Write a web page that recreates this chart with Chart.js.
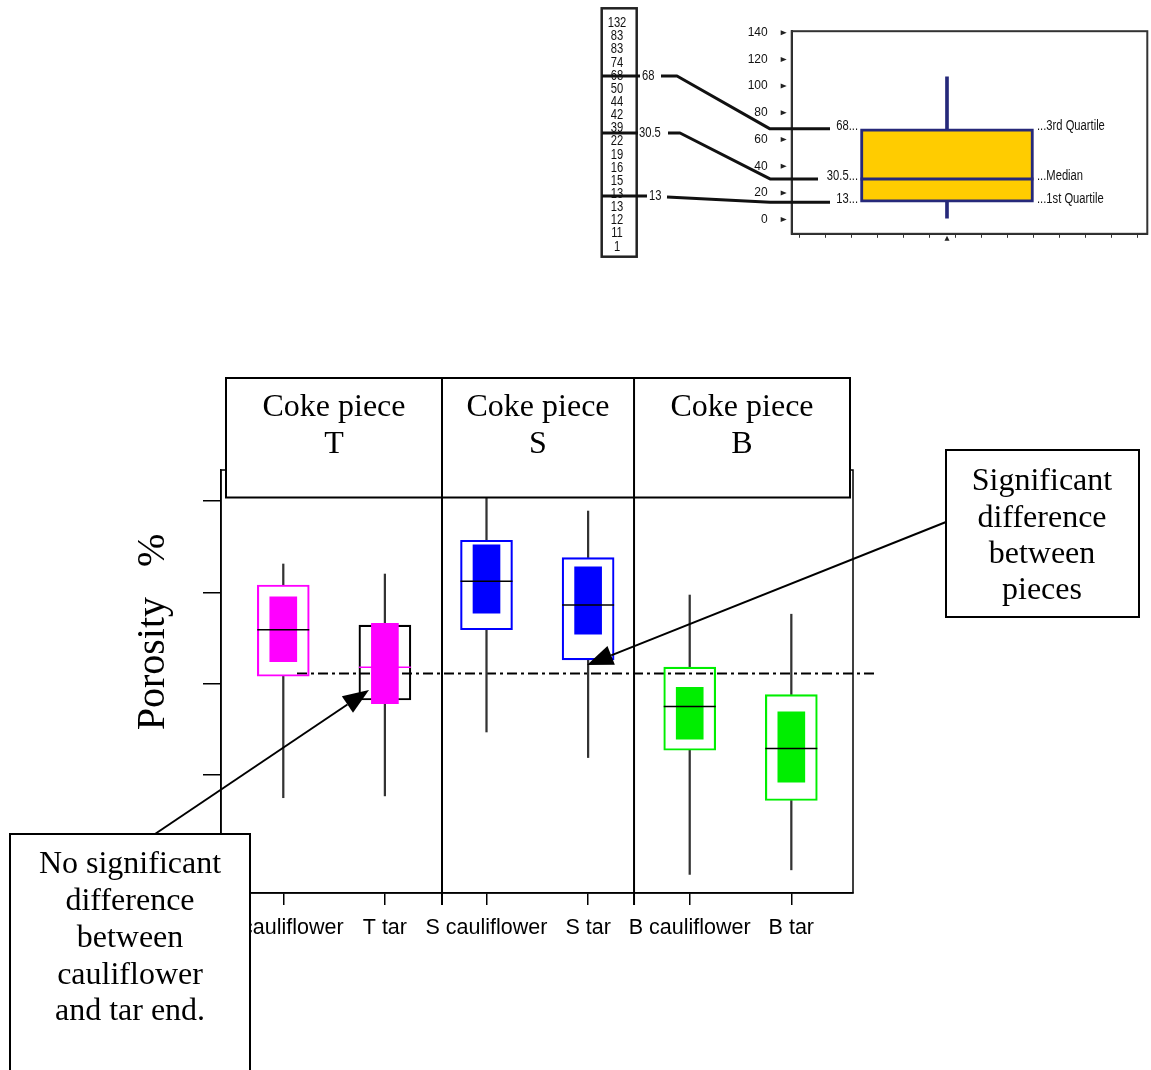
<!DOCTYPE html>
<html><head><meta charset="utf-8">
<script src="https://cdn.jsdelivr.net/npm/chart.js@4.4.1/dist/chart.umd.min.js"></script>
<style>
html,body{margin:0;padding:0;background:#fff;}
body{width:1151px;height:1070px;position:relative;overflow:hidden;}
#main{position:absolute;left:0;top:0;}
#top{position:absolute;left:590px;top:0;}
</style></head><body>
<canvas id="main" width="1151" height="1070"></canvas>
<canvas id="top" width="561" height="265"></canvas>
<script>
// ---------- main chart data ----------
const categories = ['T cauliflower', 'T tar', 'S cauliflower', 'S tar', 'B cauliflower', 'B tar'];
const whiskerMin = [17.5, 17.7, 24.7, 21.9, 9.1, 9.6];
const q1 = [30.8, 28.2, 35.9, 32.6, 22.7, 17.2];
const median = [35.9, 31.8, 41.2, 38.6, 27.5, 22.9];
const q3 = [40.8, 36.4, 45.7, 43.8, 31.8, 28.8];
const whiskerMax = [43.1, 42.0, 51.0, 48.9, 39.7, 37.6];
const innerLow = [32.4, 27.8, 37.7, 35.4, 23.9, 19.2];
const innerHigh = [39.5, 36.6, 45.2, 42.8, 29.6, 26.9];
const referenceLevel = 31.1;
const yTicks = [50, 40, 30, 20, 10];
const pieces = ['T', 'S', 'B'];
const yTitle = 'Porosity   %';
const noteRight = ['Significant', 'difference', 'between', 'pieces'];
const noteLeft = ['No significant', 'difference', 'between', 'cauliflower', 'and tar end.'];

// ---------- explanatory box plot data ----------
const sortedSample = [132, 83, 83, 74, 68, 50, 44, 42, 39, 22, 19, 16, 15, 13, 13, 12, 11, 1];
const quartileValues = [68, 30.5, 13];
const quartileLabels = ['68', '30.5', '13'];
const quartileNames = ['3rd Quartile', 'Median', '1st Quartile'];
const whiskerRange = [1, 107];
const axisTicks = [0, 20, 40, 60, 80, 100, 120, 140];

// ---------- styles ----------
const fillColors = ['#ff00ff', '#ff00ff', '#0000ff', '#0000ff', '#00ee00', '#00ee00'];
const boxColors = ['#ff00ff', '#000000', '#0000ff', '#0000ff', '#00ee00', '#00ee00'];
const medianColors = ['#000', '#ff00ff', '#000', '#000', '#000', '#000'];
const SERIF = '"Liberation Serif", "Times New Roman", serif';
const SANS = '"Liberation Sans", Arial, sans-serif';

function arrow(ctx, x1, y1, x2, y2) {
  const ang = Math.atan2(y2 - y1, x2 - x1);
  const L = 26, W = 10;
  const bx = x2 - Math.cos(ang) * L, by = y2 - Math.sin(ang) * L;
  ctx.beginPath(); ctx.moveTo(x1, y1); ctx.lineTo(bx, by); ctx.stroke();
  ctx.beginPath();
  ctx.moveTo(x2, y2);
  ctx.lineTo(bx + Math.sin(ang) * W, by - Math.cos(ang) * W);
  ctx.lineTo(bx - Math.sin(ang) * W, by + Math.cos(ang) * W);
  ctx.closePath(); ctx.fill();
}

const mainDecor = {
  id: 'mainDecor',
  beforeDatasetsDraw(chart) {
    const { ctx, chartArea: a, scales: { x, y } } = chart;
    ctx.save();
    ctx.strokeStyle = '#000'; ctx.lineWidth = 1.5;
    ctx.strokeRect(a.left, a.top, a.width, a.height);
    const yy = y.getPixelForValue(referenceLevel);
    ctx.setLineDash([10, 4, 3, 4]); ctx.lineWidth = 2;
    ctx.beginPath(); ctx.moveTo(x.getPixelForValue(1.135), yy); ctx.lineTo(x.getPixelForValue(6.824), yy); ctx.stroke();
    ctx.restore();
  },
  afterDraw(chart) {
    const { ctx, scales: { x } } = chart;
    ctx.save();
    // header
    const hl = 226, hr = 850, ht = 378, hb = 497.5;
    const s1 = x.getPixelForValue(2.562), s2 = x.getPixelForValue(4.452);
    ctx.fillStyle = '#fff'; ctx.fillRect(hl, ht, hr - hl, hb - ht);
    ctx.strokeStyle = '#000'; ctx.lineWidth = 2; ctx.strokeRect(hl, ht, hr - hl, hb - ht);
    [s1, s2].forEach(sx => { ctx.beginPath(); ctx.moveTo(sx, ht); ctx.lineTo(sx, 905); ctx.stroke(); });
    ctx.fillStyle = '#000'; ctx.font = '32px ' + SERIF; ctx.textAlign = 'center'; ctx.textBaseline = 'middle';
    const centers = [(hl + s1) / 2, (s1 + s2) / 2, (s2 + hr) / 2];
    pieces.forEach((p, i) => { ctx.fillText('Coke piece', centers[i], 408); ctx.fillText(p, centers[i], 445); });
    // y title
    ctx.save(); ctx.translate(153, 632); ctx.rotate(-Math.PI / 2);
    ctx.font = '40px ' + SERIF; ctx.fillText(yTitle, 0, 0); ctx.restore();
    // arrows
    ctx.lineWidth = 2; ctx.strokeStyle = '#000'; ctx.fillStyle = '#000';
    arrow(ctx, 155, 834, 369, 690);
    arrow(ctx, 946, 522, 587, 665);
    // notes
    ctx.fillStyle = '#fff'; ctx.fillRect(946, 450, 193, 167); ctx.strokeRect(946, 450, 193, 167);
    ctx.fillRect(10, 834, 240, 250); ctx.strokeRect(10, 834, 240, 250);
    ctx.fillStyle = '#000'; ctx.font = '32px ' + SERIF;
    noteRight.forEach((t, i) => ctx.fillText(t, 1042, 482 + i * 36.3));
    noteLeft.forEach((t, i) => ctx.fillText(t, 130, 865 + i * 36.7));
    ctx.restore();
  }
};

const bar = (lo, hi, extra) => Object.assign({
  data: categories.map((c, i) => ({ x: i + 1, y: [lo[i], hi[i]] })),
  grouped: false, borderSkipped: false
}, extra);

new Chart(document.getElementById('main'), {
  type: 'bar',
  data: {
    datasets: [
      { type: 'line', data: categories.map((c, i) => ({ x: i + 1, y: median[i] })), showLine: false,
        pointStyle: 'line', pointRadius: 26, pointHoverRadius: 26, pointBorderWidth: 1.5,
        pointBorderColor: medianColors, pointBackgroundColor: medianColors, order: 0 },
      bar(innerLow, innerHigh, { backgroundColor: fillColors, borderWidth: 0, barThickness: 27, order: 1 }),
      bar(q1, q3, { backgroundColor: 'rgba(0,0,0,0)', borderColor: boxColors, borderWidth: 1.5, barThickness: 52, order: 2 }),
      bar(q3, whiskerMax, { backgroundColor: '#333', borderWidth: 0, barThickness: 1.6, order: 3 }),
      bar(whiskerMin, q1, { backgroundColor: '#333', borderWidth: 0, barThickness: 1.6, order: 4 })
    ]
  },
  options: {
    responsive: false, animation: false, events: [],
    plugins: { legend: { display: false }, tooltip: { enabled: false } },
    layout: { autoPadding: false, padding: { left: 203, right: 298, top: 470, bottom: 117 } },
    scales: {
      x: {
        type: 'linear', min: 0.387, max: 6.607, offset: false,
        afterBuildTicks: s => { s.ticks = categories.map((c, i) => ({ value: i + 1 })); },
        ticks: { callback: (v, i) => categories[i], font: { family: SANS, size: 21.5 }, color: '#000',
                 padding: 10, maxRotation: 0, minRotation: 0, autoSkip: false },
        grid: { offset: false, drawOnChartArea: false, drawTicks: true, tickLength: 12, color: '#000', lineWidth: 1.5 },
        border: { display: true, color: '#000', width: 1.5 },
        afterFit: s => { s.height = 60; }
      },
      y: {
        min: 7.064, max: 53.395,
        afterBuildTicks: s => { s.ticks = yTicks.map(v => ({ value: v })); },
        ticks: { display: false },
        grid: { drawOnChartArea: false, drawTicks: true, tickLength: 18, color: '#000', lineWidth: 1.5 },
        border: { display: true, color: '#000', width: 1.5 },
        afterFit: s => { s.width = 18; }
      }
    }
  },
  plugins: [mainDecor]
});

// ---------- explanatory chart ----------
const OX = 590;
const NAVY = '#26297a';
const BOX_X = 0.4367;

function narrowText(ctx, text, x, y, align) {
  ctx.save(); ctx.translate(x, y); ctx.scale(0.8, 1);
  ctx.textAlign = align; ctx.fillText(text, 0, 0); ctx.restore();
}

const topDecor = {
  id: 'topDecor',
  afterDraw(chart) {
    const { ctx, chartArea: a, scales: { x, y } } = chart;
    ctx.save();
    ctx.strokeStyle = '#333'; ctx.lineWidth = 2;
    ctx.strokeRect(a.left, a.top, a.width, a.height);
    // tick triangles
    ctx.fillStyle = '#222';
    axisTicks.forEach(v => {
      const py = y.getPixelForValue(v);
      ctx.beginPath(); ctx.moveTo(a.left - 11, py - 2.5); ctx.lineTo(a.left - 5, py); ctx.lineTo(a.left - 11, py + 2.5); ctx.closePath(); ctx.fill();
    });
    const bx = x.getPixelForValue(BOX_X);
    ctx.beginPath(); ctx.moveTo(bx, a.bottom + 2); ctx.lineTo(bx + 2.5, a.bottom + 7); ctx.lineTo(bx - 2.5, a.bottom + 7); ctx.closePath(); ctx.fill();
    // sample column
    ctx.strokeStyle = '#222'; ctx.lineWidth = 2.5;
    ctx.strokeRect(601.7 - OX, 8.3, 35, 248.4);
    ctx.fillStyle = '#111'; ctx.font = '14px ' + SANS; ctx.textBaseline = 'middle';
    sortedSample.forEach((v, i) => narrowText(ctx, String(v), 617 - OX, 23.3 + i * 13.14, 'center'));
    // connectors
    const colY = [76, 133, 196];
    const colEnd = [640, 638, 647];
    const lblX = [642, 639, 649];
    const pathStart = [[661, 677], [668, 680], [667, 667]];
    const lineEnd = [830, 818, 830];
    ctx.strokeStyle = '#111'; ctx.lineWidth = 3; ctx.lineJoin = 'round';
    quartileValues.forEach((v, i) => {
      const py = y.getPixelForValue(v);
      ctx.beginPath(); ctx.moveTo(602 - OX, colY[i]); ctx.lineTo(colEnd[i] - OX, colY[i]); ctx.stroke();
      narrowText(ctx, quartileLabels[i], lblX[i] - OX, colY[i], 'left');
      ctx.beginPath();
      ctx.moveTo(pathStart[i][0] - OX, colY[i] + (i === 2 ? 1 : 0));
      ctx.lineTo(pathStart[i][1] - OX, colY[i] + (i === 2 ? 1 : 0));
      ctx.lineTo(770 - OX, py); ctx.lineTo(lineEnd[i] - OX, py); ctx.stroke();
      narrowText(ctx, quartileLabels[i] + '...', 858 - OX, py - 3, 'right');
      narrowText(ctx, '...' + quartileNames[i], 1037 - OX, py - 3, 'left');
    });
    ctx.restore();
  }
};

new Chart(document.getElementById('top'), {
  type: 'bar',
  data: {
    datasets: [
      { type: 'line', data: [{ x: BOX_X, y: quartileValues[1] }], showLine: false, pointStyle: 'line',
        pointRadius: 86.5, pointHoverRadius: 86.5, pointBorderWidth: 3, pointBorderColor: NAVY, order: 0 },
      { data: [{ x: BOX_X, y: [quartileValues[2], quartileValues[0]] }], backgroundColor: '#ffcc00',
        borderColor: NAVY, borderWidth: 3, borderSkipped: false, barThickness: 173, grouped: false, order: 1 },
      { data: [{ x: BOX_X, y: [quartileValues[0], whiskerRange[1]] }], backgroundColor: NAVY, borderWidth: 0,
        barThickness: 3, grouped: false, order: 2 },
      { data: [{ x: BOX_X, y: [whiskerRange[0], quartileValues[2]] }], backgroundColor: NAVY, borderWidth: 0,
        barThickness: 3, grouped: false, order: 3 }
    ]
  },
  options: {
    responsive: false, animation: false, events: [],
    plugins: { legend: { display: false }, tooltip: { enabled: false } },
    layout: { autoPadding: false, padding: { left: 141.7, right: 3.7, top: 25, bottom: 16 } },
    scales: {
      x: {
        type: 'linear', min: 0, max: 1, offset: false,
        afterBuildTicks: s => { const t = []; for (let k = 0; k < 14; k++) t.push({ value: 0.0214 + k * 0.0731 }); s.ticks = t; },
        ticks: { display: false },
        grid: { offset: false, drawOnChartArea: false, drawTicks: true, tickLength: 4, color: '#333', lineWidth: 1 },
        border: { display: true, color: '#222', width: 2 },
        afterFit: s => { s.height = 10; }
      },
      y: {
        min: -10.64, max: 141.13, clip: false,
        afterBuildTicks: s => { s.ticks = axisTicks.map(v => ({ value: v })); },
        ticks: { font: { family: SANS, size: 12 }, color: '#111', padding: 24, autoSkip: false },
        grid: { drawOnChartArea: false, drawTicks: false },
        border: { display: true, color: '#222', width: 2 },
        afterFit: s => { s.width = 60; }
      }
    }
  },
  plugins: [topDecor]
});
</script>
</body></html>
